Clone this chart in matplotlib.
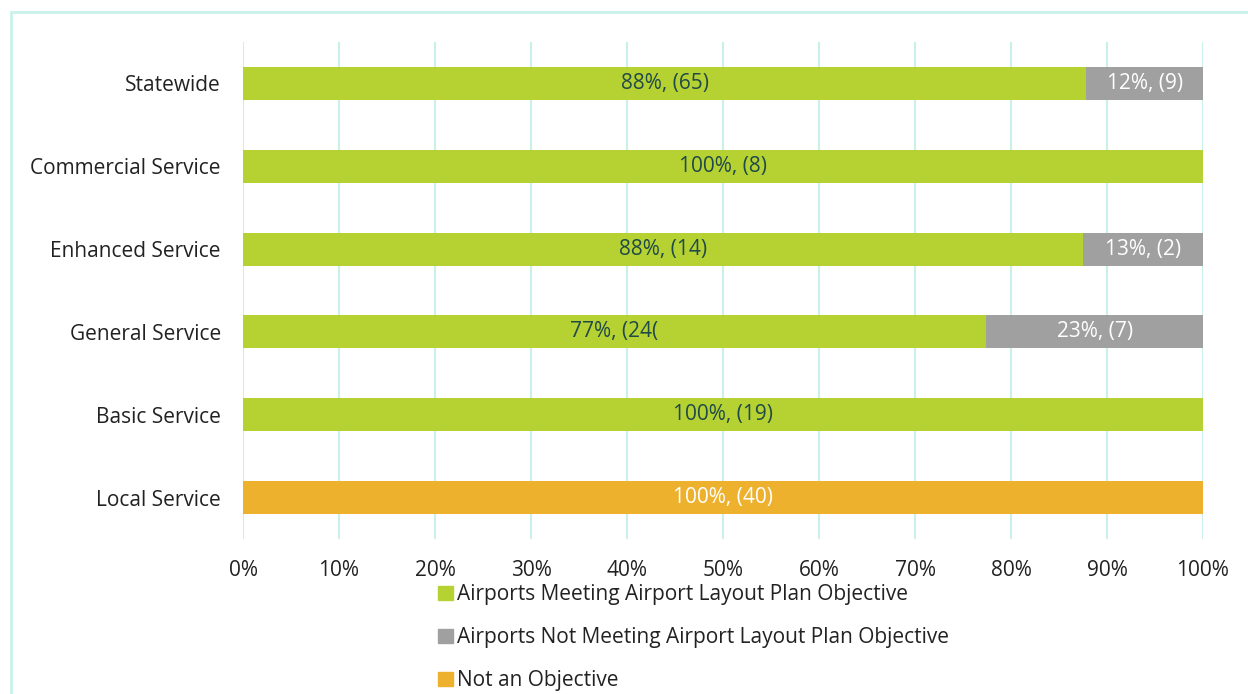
import matplotlib
matplotlib.use('Agg')
import matplotlib.pyplot as plt
from matplotlib.patches import Patch, Rectangle
import numpy as np

plt.rcParams['font.family'] = ['Open Sans', 'DejaVu Sans']

# data
categories = ['Statewide', 'Commercial Service', 'Enhanced Service',
              'General Service', 'Basic Service', 'Local Service']
meeting = [65, 8, 14, 24, 19, 0]
not_meeting = [9, 0, 2, 7, 0, 0]
not_objective = [0, 0, 0, 0, 0, 40]
meeting_labels = ['88%, (65)', '100%, (8)', '88%, (14)', '77%, (24(', '100%, (19)', '']
not_meeting_labels = ['12%, (9)', '', '13%, (2)', '23%, (7)', '', '']
not_objective_labels = ['', '', '', '', '', '100%, (40)']
series_names = ['Airports Meeting Airport Layout Plan Objective',
                'Airports Not Meeting Airport Layout Plan Objective',
                'Not an Objective']

GREEN = '#b6d232'
GRAY = '#a0a0a0'
ORANGE = '#edb12e'
GRID = '#c9f1ea'
FS = 15

fig = plt.figure(figsize=(12.48, 6.94), dpi=100)
ax = fig.add_axes([243 / 1248, 1 - 539 / 694, 960 / 1248, 497 / 694])

totals = np.array(meeting) + np.array(not_meeting) + np.array(not_objective)
m = np.array(meeting) / totals
n = np.array(not_meeting) / totals
o = np.array(not_objective) / totals
y = np.arange(len(categories))

ax.barh(y, m, height=0.4, color=GREEN, zorder=2)
ax.barh(y, n, left=m, height=0.4, color=GRAY, zorder=2)
ax.barh(y, o, left=m + n, height=0.4, color=ORANGE, zorder=2)

for i in range(len(categories)):
    if meeting_labels[i]:
        ax.text(m[i] / 2, y[i], meeting_labels[i], ha='center', va='center',
                fontsize=FS, color='#1f4a48', zorder=3)
    if not_meeting_labels[i]:
        ax.text(m[i] + n[i] / 2, y[i], not_meeting_labels[i], ha='center', va='center',
                fontsize=FS, color='white', zorder=3)
    if not_objective_labels[i]:
        ax.text(m[i] + n[i] + o[i] / 2, y[i], not_objective_labels[i], ha='center',
                va='center', fontsize=FS, color='white', zorder=3)

ax.set_xlim(0, 1)
ax.set_ylim(len(categories) - 0.5, -0.5)
ax.set_yticks(y)
ax.set_yticklabels(categories, fontsize=FS, color='#222222')
ticks = np.linspace(0, 1, 11)
ax.set_xticks(ticks)
ax.set_xticklabels([f'{int(round(t * 100))}%' for t in ticks], fontsize=FS, color='#222222')
ax.tick_params(length=0)
ax.tick_params(axis='y', pad=16)
ax.tick_params(axis='x', pad=15)
for s in ax.spines.values():
    s.set_visible(False)
ax.grid(axis='x', color=GRID, linewidth=1.5, zorder=0)
ax.set_axisbelow(True)

# outer frame (cut off on the right and bottom)
fig.patches.append(Rectangle((11 / 1248, -0.1), 1.2, 1.1 - 12 / 694,
                             transform=fig.transFigure, fill=False,
                             edgecolor=GRID, linewidth=2, zorder=0))

handles = [Patch(color=GREEN), Patch(color=GRAY), Patch(color=ORANGE)]
fig.legend(handles, series_names, loc='upper left',
           bbox_to_anchor=(428 / 1248, 1 - 574 / 694), frameon=False,
           fontsize=FS, handlelength=0.7, handleheight=0.7,
           handletextpad=0.2, labelspacing=1.05, borderpad=0,
           labelcolor='#222222')

fig.savefig('out.png', dpi=100)
